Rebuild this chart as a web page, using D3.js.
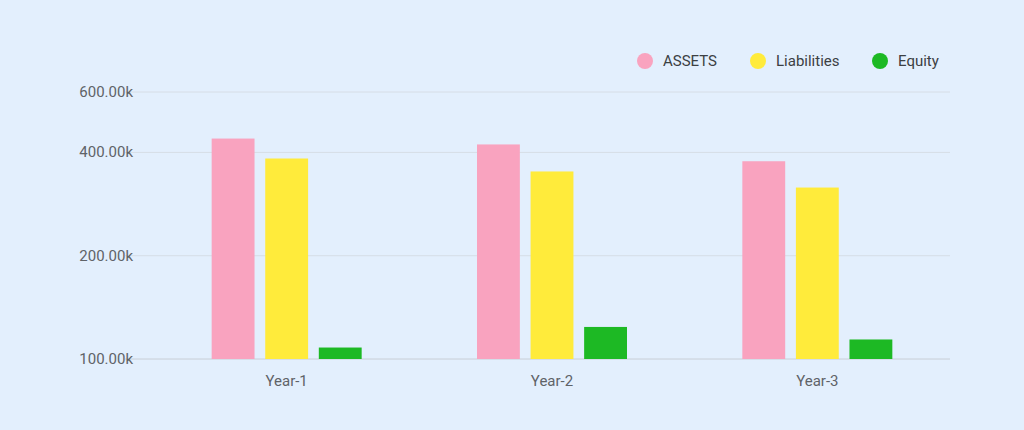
<!DOCTYPE html><html><head><meta charset="utf-8"><script src="https://cdn.jsdelivr.net/npm/d3@7"></script>
<style>body{margin:0;background:#e3effd;}text{font-family:Roboto,sans-serif;}</style></head><body>
<svg id="c" width="1024" height="430"></svg>
<script>
const categories=["Year-1","Year-2","Year-3"];
const seriesNames=["ASSETS","Liabilities","Equity"];
const assets=[439000,422000,377000];
const liabilities=[384000,352000,316000];
const equity=[108000,124000,114000];
const yTicks=[100000,200000,400000,600000];
const tickLabels=["100.00k","200.00k","400.00k","600.00k"];
const colors=["#f9a3bf","#ffeb3b","#1db924"];
const data=[assets,liabilities,equity];
const svg=d3.select("#c");
const L=154,R=950;
const y=d3.scaleLog().domain([100000,600000]).range([359,92]);
const x0=d3.scaleBand().domain(categories).range([L,R]);
const gw=150;
const x1=d3.scaleBand().domain(seriesNames).range([0,gw]).paddingInner(0.2);
svg.append("g").selectAll("line").data(yTicks).join("line")
 .attr("x1",125).attr("x2",R).attr("y1",d=>y(d)).attr("y2",d=>y(d))
 .attr("stroke",d=>d===100000?"#c8ced6":"#d6dde6").attr("stroke-width",1);
svg.append("g").selectAll("text").data(yTicks).join("text")
 .attr("x",133).attr("y",d=>y(d)+5).attr("text-anchor","end").attr("fill","#5f6368").attr("font-size",15)
 .text((d,i)=>tickLabels[i]);
categories.forEach((c,ci)=>{
 const gx=x0(c)+(x0.bandwidth()-gw)/2;
 seriesNames.forEach((s,si)=>{
  svg.append("rect").attr("x",gx+x1(s)).attr("width",x1.bandwidth())
   .attr("y",y(data[si][ci])).attr("height",359-y(data[si][ci])).attr("fill",colors[si]);
 });
 svg.append("text").attr("x",x0(c)+x0.bandwidth()/2).attr("y",386).attr("text-anchor","middle")
  .attr("fill","#5f6368").attr("font-size",15).text(c);
});
const lx=[645,758,880];
seriesNames.forEach((s,i)=>{
 svg.append("circle").attr("cx",lx[i]).attr("cy",61).attr("r",8).attr("fill",colors[i]);
 svg.append("text").attr("x",lx[i]+18).attr("y",66).attr("fill","#3c4043").attr("font-size",15).text(s);
});
</script></body></html>
